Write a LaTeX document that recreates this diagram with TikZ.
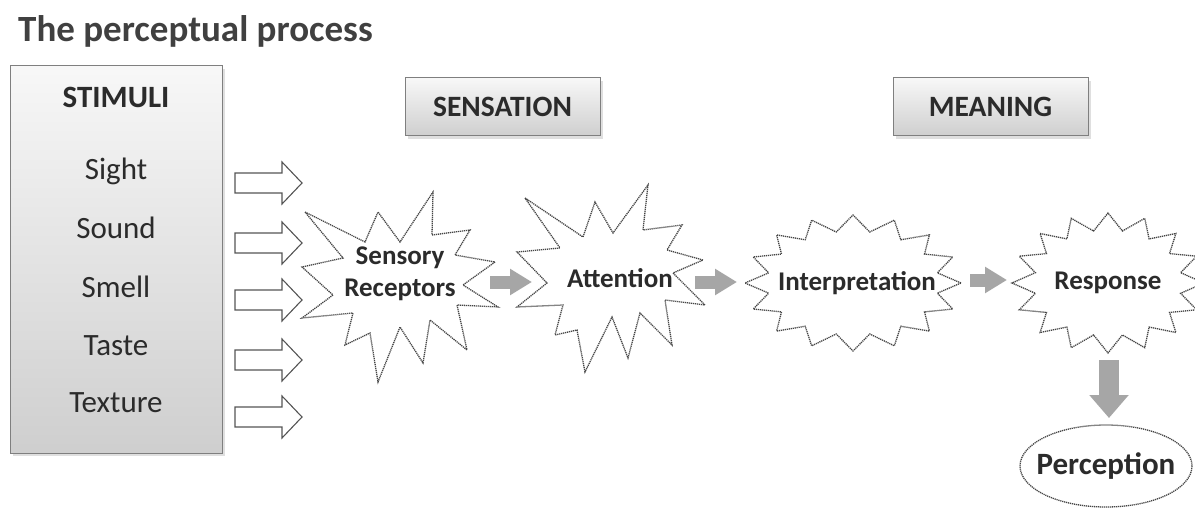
\documentclass[tikz,border=0pt]{standalone}
\usepackage{fontspec}
\setmainfont{Carlito}
\usetikzlibrary{arrows.meta,shapes.geometric}
\definecolor{txt}{HTML}{2B2B2B}
\definecolor{ttl}{HTML}{404040}
\definecolor{boxline}{HTML}{7F7F7F}
\definecolor{blockgray}{HTML}{A6A6A6}
\definecolor{starline}{HTML}{454545}
\tikzset{
  boxtext/.style={text=txt, font=\fontsize{31}{37}\selectfont, inner sep=0pt, anchor=base},
  boxhead/.style={boxtext, font=\fontsize{31}{37}\selectfont\bfseries},
  labeltext/.style={text=txt, font=\fontsize{27}{32}\selectfont\bfseries, inner sep=0pt, align=center},
  hdrtext/.style={labeltext, font=\fontsize{29.5}{35}\selectfont\bfseries},
  hdrbox/.style={draw=boxline, line width=1pt, top color=gray!6, bottom color=gray!38},
  hollow/.style={draw=txt!80, line width=1.1pt, fill=white},
  dotline/.style={draw=starline, line width=1.3pt, dash pattern=on 1.2pt off 0.8pt},
  starpath/.style={dotline, fill=white, line join=miter},
  grayarrow/.style={draw=blockgray, line width=13pt, line cap=butt, -{Triangle[width=25pt,length=22pt]}},
  downarrow/.style={draw=blockgray, line width=20pt, line cap=butt, -{Triangle[width=38pt,length=23pt]}},
  shadowbox/.style={fill=gray!25, draw=none}
}
\newcommand{\hollowarrow}[2]{%
  \coordinate (#1) at (235,#2);
  \path[hollow] (#1) ++(0,-10) -- ++(47,0) -- ++(0,-11) -- ++(20,21) -- ++(-20,21) -- ++(0,-11) -- ++(-47,0) -- cycle;
}
\begin{document}
\begin{tikzpicture}[x=1pt,y=-1pt]
\useasboundingbox (0,0) rectangle (1195,508);
\fill[white] (0,0) rectangle (1195,508);

% title
\node[text=ttl, font=\fontsize{37}{44}\selectfont\bfseries, anchor=base west, inner sep=0pt] (title) at (18,42) {The perceptual process};

% stimuli box
\fill[shadowbox] (13,69) rectangle (225,456);
\path[hdrbox] (10,66) rectangle (222,453);
\node[boxhead] (stim) at (116,108) {STIMULI};
\node[boxtext] (sight) at (116,180) {Sight};
\node[boxtext] (sound) at (116,238) {Sound};
\node[boxtext] (smell) at (116,297) {Smell};
\node[boxtext] (taste) at (116,355) {Taste};
\node[boxtext] (texture) at (116,412) {Texture};

% header boxes
\fill[shadowbox] (408,81) rectangle (603,139);
\path[hdrbox] (405,78) rectangle (600,136);
\node[hdrtext] (sensation) at (502.5,107) {SENSATION};
\fill[shadowbox] (896,81) rectangle (1091,139);
\path[hdrbox] (893,78) rectangle (1088,136);
\node[hdrtext] (meaning) at (990.5,107) {MEANING};

% hollow arrows
\hollowarrow{h1}{183}
\hollowarrow{h2}{243}
\hollowarrow{h3}{300}
\hollowarrow{h4}{360}
\hollowarrow{h5}{417}

% sensory receptors star
\path[starpath] (305,212) -- (365,242) -- (378,212) -- (400,242) -- (433,192) -- (432,235) -- (470,230) -- (455,255) -- (495,262) -- (463,285) -- (498,307) -- (457,305) -- (467,350) -- (430,320) -- (423,363) -- (400,327) -- (378,382) -- (370,333) -- (345,345) -- (353,313) -- (302,318) -- (333,295) -- (302,267) -- (343,258) -- cycle;
\node[labeltext, align=center] (sr) at (400,274) {Sensory\\Receptors};

% attention star
\path[starpath] (525,198) -- (583,237) -- (595,202) -- (613,233) -- (648,185) -- (643,230) -- (682,225) -- (667,250) -- (703,260) -- (673,273) -- (705,305) -- (665,300) -- (672,345) -- (640,313) -- (628,358) -- (612,317) -- (585,372) -- (577,330) -- (555,335) -- (563,305) -- (517,307) -- (547,283) -- (517,252) -- (560,248) -- cycle;
\node[labeltext] (att) at (620,278) {Attention};

% interpretation star (regular)
\path[starpath] plot[samples at={0,...,31}, variable=\i]
  ({853+ifthenelse(mod(\i,2)==0,108,86)*cos(\i*11.25)}, {283-ifthenelse(mod(\i,2)==0,68,52)*sin(\i*11.25)}) -- cycle;
\node[labeltext] (interp) at (857,283) {Interpretation};

% response star (regular)
\path[starpath] plot[samples at={0,...,31}, variable=\i]
  ({1108+ifthenelse(mod(\i,2)==0,96,74)*cos(\i*11.25)}, {283-ifthenelse(mod(\i,2)==0,70,53)*sin(\i*11.25)}) -- cycle;
\node[labeltext] (resp) at (1108,283) {Response};

% perception ellipse
\coordinate (pc) at (1106,466);
\draw[dotline] (pc) ellipse [x radius=86, y radius=41];
\node[labeltext, font=\fontsize{31}{37}\selectfont\bfseries] (perc) at (pc) {Perception};

% gray block arrows
\coordinate (g1s) at (490,282); \coordinate (g1e) at (532,282);
\coordinate (g2s) at (695,282); \coordinate (g2e) at (737,282);
\coordinate (g3s) at (970,280); \coordinate (g3e) at (1007,280);
\coordinate (g4s) at (1109,360); \coordinate (g4e) at (1109,418);
\draw[grayarrow] (g1s) -- (g1e);
\draw[grayarrow] (g2s) -- (g2e);
\draw[grayarrow] (g3s) -- (g3e);
\draw[downarrow] (g4s) -- (g4e);
\end{tikzpicture}
\end{document}
